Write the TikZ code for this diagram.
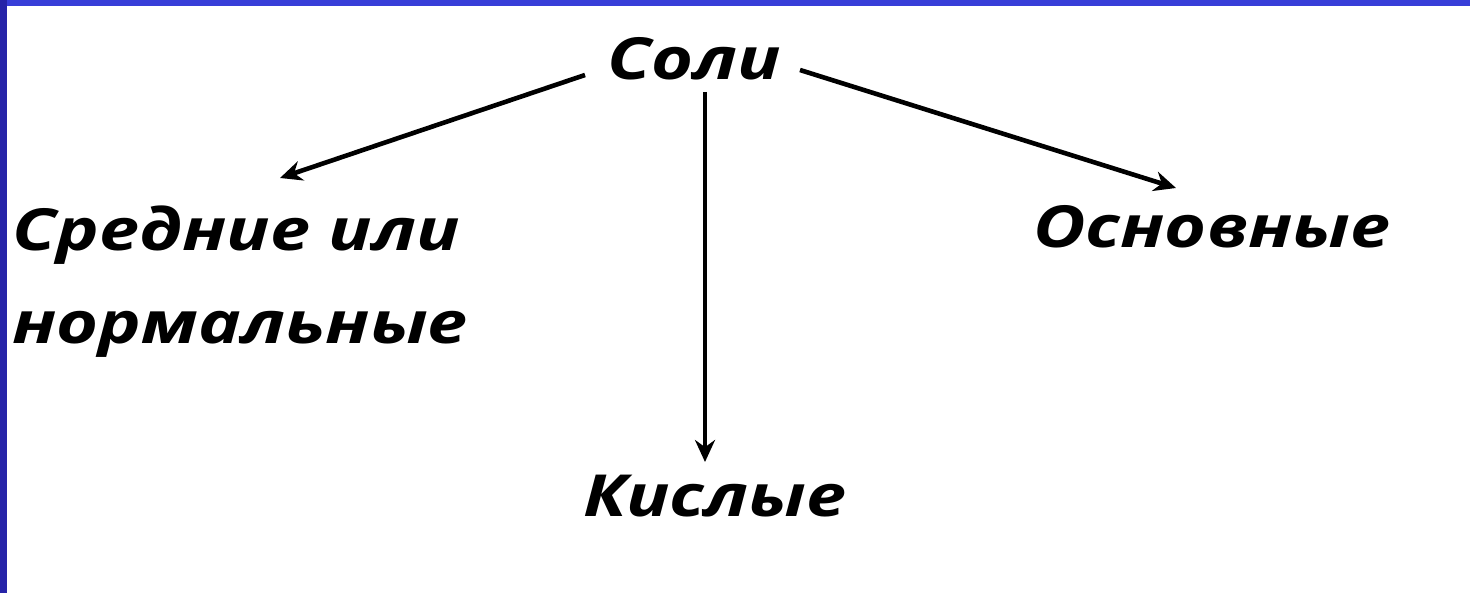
\documentclass[tikz,border=0pt]{standalone}
\usepackage{fontspec}
\setmainfont{Open Sans}
\newfontfamily\lblfont{Open Sans}[FakeStretch=1.24]
\usetikzlibrary{arrows.meta}
\definecolor{topblue}{RGB}{56,62,216}
\definecolor{sideblue}{RGB}{38,36,168}
\tikzset{
  lbl/.style={font=\lblfont\fontsize{29}{34}\selectfont\bfseries\itshape, inner sep=0pt, anchor=base west},
  arr/.style={line width=2.3pt, -{Stealth[length=11pt,width=10pt]}}
}
\begin{document}
\begin{tikzpicture}[x=0.5pt,y=-0.5pt]
\useasboundingbox (0,0) rectangle (1470,593);
\fill[white] (0,0) rectangle (1470,593);
\fill[topblue] (0,0) rectangle (1470,6);
\fill[sideblue] (0,0) rectangle (7,593);
\node[lbl] (soli) at (607,80) {Соли};
\node[lbl] (sred) at (12,250) {Средние или};
\node[lbl] (norm) at (12,343) {нормальные};
\node[lbl] (osn) at (1033,247) {Основные};
\node[lbl] (kisl) at (583,516) {Кислые};
\coordinate (a1s) at (585,75);
\coordinate (a1e) at (280,178);
\coordinate (a2s) at (705,92);
\coordinate (a2e) at (705,462);
\coordinate (a3s) at (800,70);
\coordinate (a3e) at (1176,188);
\draw[arr] (a1s) -- (a1e);
\draw[arr] (a2s) -- (a2e);
\draw[arr] (a3s) -- (a3e);
\end{tikzpicture}
\end{document}
